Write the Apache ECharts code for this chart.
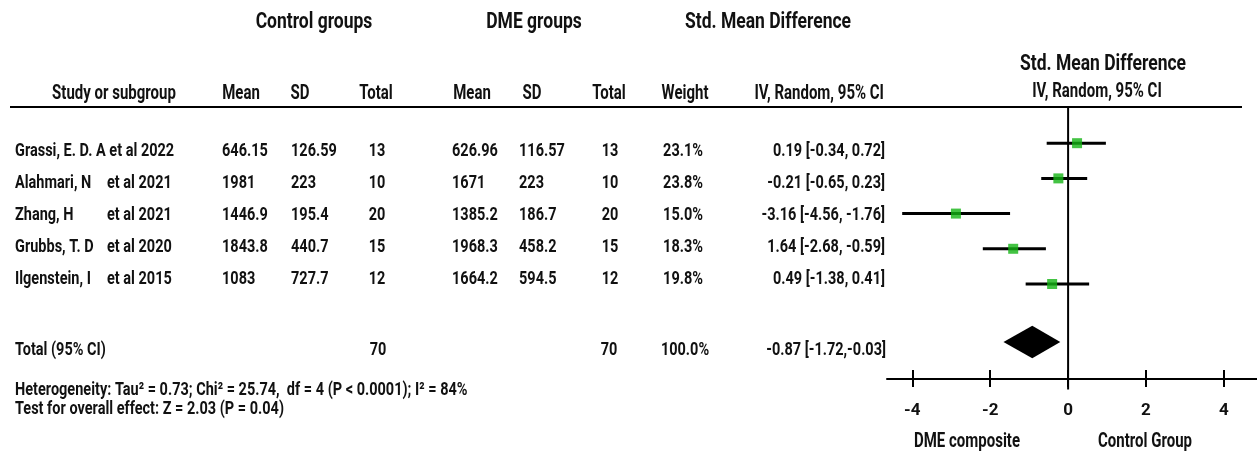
<!DOCTYPE html>
<html>
<head>
<meta charset="utf-8">
<script src="https://cdn.jsdelivr.net/npm/echarts@6/dist/echarts.min.js"></script>
<style>
html,body{margin:0;padding:0;background:#fff;}
#chart{width:1257px;height:455px;}
</style>
</head>
<body>
<div id="chart"></div>
<script>
// ---------------- data ----------------
const studyAuthors = ['Grassi, E. D. A', 'Alahmari, N', 'Zhang, H', 'Grubbs, T. D', 'Ilgenstein, I'];
const studyYears = ['et al 2022', 'et al 2021', 'et al 2021', 'et al 2020', 'et al 2015'];
const ctrlMean = ['646.15', '1981', '1446.9', '1843.8', '1083'];
const ctrlSD = ['126.59', '223', '195.4', '440.7', '727.7'];
const ctrlTotal = ['13', '10', '20', '15', '12'];
const dmeMean = ['626.96', '1671', '1385.2', '1968.3', '1664.2'];
const dmeSD = ['116.57', '223', '186.7', '458.2', '594.5'];
const dmeTotal = ['13', '10', '20', '15', '12'];
const weights = ['23.1%', '23.8%', '15.0%', '18.3%', '19.8%'];
const ciTexts = ['0.19 [-0.34, 0.72]', '-0.21 [-0.65, 0.23]', '-3.16 [-4.56, -1.76]', '1.64 [-2.68, -0.59]', '0.49 [-1.38, 0.41]'];
const totalCtrl = '70';
const totalDme = '70';
const totalWeight = '100.0%';
const totalCiText = '-0.87 [-1.72,-0.03]';
const heterogeneityText = 'Heterogeneity: Tau² = 0.73; Chi² = 25.74,  df = 4 (P < 0.0001); I² = 84%';
const overallText = 'Test for overall effect: Z = 2.03 (P = 0.04)';

// markers as drawn in the plot
const plotEst = [0.23, -0.25, -2.88, -1.41, -0.41];
const plotLow = [-0.55, -0.69, -4.26, -2.19, -1.09];
const plotHigh = [0.97, 0.49, -1.49, -0.57, 0.54];
const totalEst = -0.92;
const totalLow = -1.66;
const totalHigh = -0.20;
const xTickValues = [-4, -2, 0, 2, 4];
const leftAxisNote = 'DME composite';
const rightAxisNote = 'Control Group';

// ---------------- layout ----------------
const FONT = 'Roboto, Lato, sans-serif';
const INK = '#111111';
const GREEN = '#14b414';
const SY = 1.3;           // vertical stretch of the original figure's text
const ROW_Y0 = 151, ROW_DY = 32;
const TOTAL_ROW = 5.65;

function txt(text, x, y, align, size, sy) {
  return {
    type: 'text', x: x, y: y, scaleY: sy || SY, silent: true,
    style: {
      text: text, fontSize: size, fontWeight: 'bold', fontFamily: FONT, fill: INK,
      align: align, textAlign: align, verticalAlign: 'middle', textVerticalAlign: 'middle'
    }
  };
}

const TS = 17.5, HS = 15, RS = 14.5;
const g = [];
// top headers
g.push(txt('Control groups', 314, 23, 'center', TS, 1.22));
g.push(txt('DME groups', 534, 23, 'center', TS, 1.22));
g.push(txt('Std. Mean Difference', 768, 23, 'center', TS, 1.22));
// column headers
g.push(txt('Study or subgroup', 114, 94, 'center', HS));
g.push(txt('Mean', 241, 94, 'center', HS));
g.push(txt('SD', 300, 94, 'center', HS));
g.push(txt('Total', 376, 94, 'center', HS));
g.push(txt('Mean', 472, 94, 'center', HS));
g.push(txt('SD', 532, 94, 'center', HS));
g.push(txt('Total', 609, 94, 'center', HS));
g.push(txt('Weight', 685, 94, 'center', HS));
g.push(txt('IV, Random, 95% CI', 884, 94, 'right', HS));
// right panel headers
g.push(txt('Std. Mean Difference', 1103, 65, 'center', TS, 1.22));
g.push(txt('IV, Random, 95% CI', 1097, 92, 'center', HS));
// header rule
g.push({ type: 'line', silent: true, shape: { x1: 10, y1: 107, x2: 1242, y2: 107 }, style: { stroke: '#000', lineWidth: 2 } });

// study rows
for (let i = 0; i < studyAuthors.length; i++) {
  const y = ROW_Y0 + i * ROW_DY;
  if (i === 0) {
    g.push(txt(studyAuthors[i] + ' ' + studyYears[i], 15, y, 'left', RS));
  } else {
    g.push(txt(studyAuthors[i], 15, y, 'left', RS));
    g.push(txt(studyYears[i], 107, y, 'left', RS));
  }
  g.push(txt(ctrlMean[i], 222, y, 'left', RS));
  g.push(txt(ctrlSD[i], 291, y, 'left', RS));
  g.push(txt(ctrlTotal[i], 377, y, 'center', RS));
  g.push(txt(dmeMean[i], 452, y, 'left', RS));
  g.push(txt(dmeSD[i], 519, y, 'left', RS));
  g.push(txt(dmeTotal[i], 610, y, 'center', RS));
  g.push(txt(weights[i], 683, y, 'center', RS));
  g.push(txt(ciTexts[i], 885, y, 'right', RS));
}
// total row
g.push(txt('Total (95% CI)', 15, 350, 'left', RS));
g.push(txt(totalCtrl, 378, 350, 'center', RS));
g.push(txt(totalDme, 609, 350, 'center', RS));
g.push(txt(totalWeight, 685, 350, 'center', RS));
g.push(txt(totalCiText, 886, 350, 'right', RS));
g.push(txt(heterogeneityText, 15, 390, 'left', RS));
g.push(txt(overallText, 15, 409, 'left', RS));
// axis notes
g.push(txt(leftAxisNote, 967, 442, 'center', HS));
g.push(txt(rightAxisNote, 1145, 442, 'center', HS));

// ---------------- chart ----------------
const chart = echarts.init(document.getElementById('chart'), null, { renderer: 'canvas' });

const ciData = plotLow.map((l, i) => [l, plotHigh[i], i]);
const pointData = plotEst.map((v, i) => [v, i]);

const option = {
  animation: false,
  backgroundColor: '#ffffff',
  grid: { left: 887, right: 0, top: 108, bottom: 455 - 379, containLabel: false },
  xAxis: [
    {
      type: 'value', min: -4.65, max: 4.85, position: 'bottom',
      axisLine: { show: true, onZero: false, lineStyle: { color: '#000', width: 2 } },
      axisTick: { show: true, customValues: xTickValues, length: 8, lineStyle: { color: '#000', width: 2 } },
      axisLabel: { show: true, customValues: xTickValues, margin: 23, fontSize: 17, fontWeight: 'bold', fontFamily: FONT, color: INK },
      splitLine: { show: false }
    },
    {
      type: 'value', min: -4.65, max: 4.85, position: 'bottom', offset: 0,
      axisLine: { show: false, onZero: false },
      axisTick: { show: true, inside: true, customValues: xTickValues, length: 9, lineStyle: { color: '#000', width: 2 } },
      axisLabel: { show: false },
      splitLine: { show: false }
    }
  ],
  yAxis: {
    type: 'value', min: -1, max: 6.7, inverse: true, show: false,
    splitLine: { show: false }
  },
  series: [
    {
      type: 'line', name: 'zero', xAxisIndex: 0, clip: false, symbol: 'none', z: 1,
      data: [[0, -1], [0, 7]],
      lineStyle: { color: '#000', width: 2 }
    },
    {
      type: 'custom', name: 'ci', xAxisIndex: 0, z: 2,
      encode: { x: [0, 1], y: 2 },
      data: ciData,
      renderItem: function (params, api) {
        const y = api.value(2);
        const p1 = api.coord([api.value(0), y]);
        const p2 = api.coord([api.value(1), y]);
        return { type: 'line', shape: { x1: p1[0], y1: p1[1], x2: p2[0], y2: p2[1] }, style: { stroke: '#000', lineWidth: 3 } };
      }
    },
    {
      type: 'scatter', name: 'estimate', xAxisIndex: 0, z: 3,
      symbol: 'rect', symbolSize: 10,
      itemStyle: { color: GREEN },
      data: pointData
    },
    {
      type: 'custom', name: 'total', xAxisIndex: 0, z: 3,
      encode: { x: [0, 1, 2], y: 3 },
      data: [[totalLow, totalEst, totalHigh, TOTAL_ROW]],
      renderItem: function (params, api) {
        const r = api.value(3);
        const a = api.coord([api.value(0), r]);
        const t = api.coord([api.value(1), r - 0.46]);
        const b = api.coord([api.value(2), r]);
        const d = api.coord([api.value(1), r + 0.46]);
        return { type: 'polygon', shape: { points: [a, t, b, d] }, style: { fill: '#000' } };
      }
    }
  ],
  graphic: { elements: g }
};
chart.setOption(option);
</script>
</body>
</html>
